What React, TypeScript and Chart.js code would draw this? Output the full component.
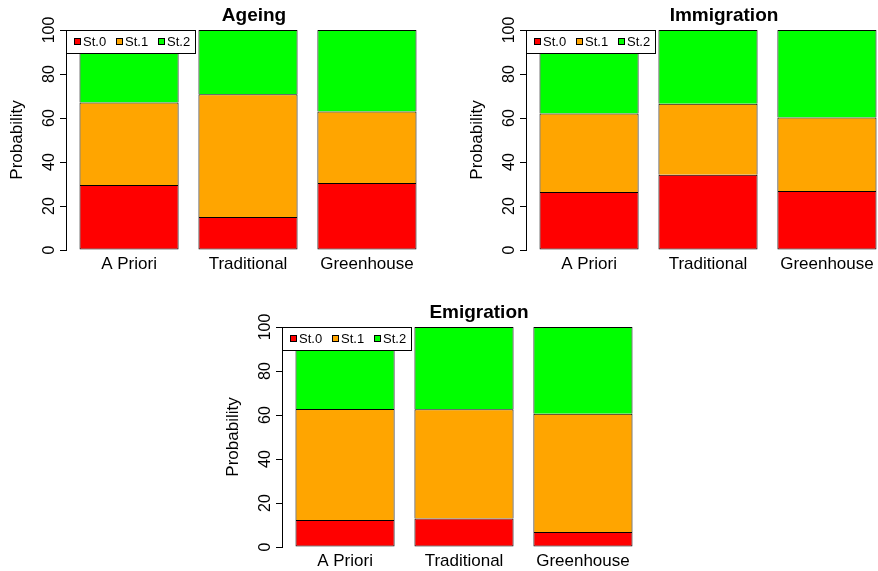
import React, { useEffect, useRef } from "react";
import { Chart, registerables } from "chart.js";

Chart.register(...registerables);

const FONT = '"Liberation Sans", Arial, Helvetica, sans-serif';
Chart.defaults.font.family = FONT;

// ---------------- data ----------------
const categories = ["A Priori", "Traditional", "Greenhouse"];
const stateLabels = ["St.0", "St.1", "St.2"];
const stateColors = ["#FF0000", "#FFA500", "#00FF00"];
const yTickValues = [0, 20, 40, 60, 80, 100];
const panelTitles = ["Ageing", "Immigration", "Emigration"];

const ageingSt0 = [29.5, 15.0, 30.5];
const ageingSt1 = [37.5, 55.8, 32.5];
const ageingSt2 = [33.0, 29.2, 37.0];

const immigrationSt0 = [26.4, 34.2, 26.8];
const immigrationSt1 = [35.7, 32.3, 33.4];
const immigrationSt2 = [37.9, 33.5, 39.8];

const emigrationSt0 = [12.3, 13.0, 6.8];
const emigrationSt1 = [50.4, 49.6, 53.8];
const emigrationSt2 = [37.3, 37.4, 39.4];

const panelSeries = [
  [ageingSt0, ageingSt1, ageingSt2],
  [immigrationSt0, immigrationSt1, immigrationSt2],
  [emigrationSt0, emigrationSt1, emigrationSt2],
];

// ---------------- layout ----------------
const CANVAS_W = 440;
const CANVAS_H = 285;
const PLOT_TOP = 30;
const PLOT_H = 220;
const AXIS_X = 66;
const panelLayout = [
  { left: 0, top: 0, titleX: 254 },
  { left: 460, top: 0, titleX: 264 },
  { left: 216, top: 297, titleX: 263 },
];

// R barplot geometry (width 1, space 0.2)
const BAR_W = 1;
const BAR_SPACE = 0.2;
const PITCH = BAR_W + BAR_SPACE;
const barCenter = (i: number) => BAR_SPACE + BAR_W / 2 + i * PITCH;
const X_LO = BAR_SPACE;
const X_HI = categories.length * PITCH;
const X_PAD = (X_HI - X_LO) * 0.04;

const titlePlugin = {
  id: "panelTitle",
  afterDraw(chart: any) {
    const { ctx, chartArea } = chart;
    const t = chart.options.plugins.panelTitle;
    ctx.save();
    ctx.font = `bold 19px ${FONT}`;
    ctx.fillStyle = "#000";
    ctx.textAlign = "center";
    ctx.textBaseline = "alphabetic";
    ctx.fillText(t.text, t.x, chartArea.top - 9);
    ctx.restore();
  },
};

const boxLegendPlugin = {
  id: "boxLegend",
  afterDraw(chart: any) {
    const { ctx, chartArea } = chart;
    const x0 = chartArea.left;
    const y0 = chartArea.top;
    const w = 129;
    const h = 23;
    ctx.save();
    ctx.fillStyle = "#fff";
    ctx.fillRect(x0, y0, w, h);
    ctx.strokeStyle = "#000";
    ctx.lineWidth = 1;
    ctx.strokeRect(x0 + 0.5, y0 + 0.5, w, h);
    ctx.font = `13px ${FONT}`;
    ctx.textBaseline = "middle";
    ctx.textAlign = "left";
    chart.data.datasets.forEach((ds: any, i: number) => {
      const sx = x0 + 8 + i * 42;
      const sy = y0 + 8;
      ctx.fillStyle = ds.backgroundColor;
      ctx.fillRect(sx, sy, 7, 7);
      ctx.strokeStyle = "#000";
      ctx.strokeRect(sx + 0.5, sy + 0.5, 6, 6);
      ctx.fillStyle = "#000";
      ctx.fillText(ds.label, sx + 9, y0 + 12);
    });
    ctx.restore();
  },
};

function Panel({ index }: { index: number }) {
  const ref = useRef<HTMLCanvasElement | null>(null);
  useEffect(() => {
    if (!ref.current) return;
    const series = panelSeries[index];
    const chart = new Chart(ref.current, {
      type: "bar",
      data: {
        datasets: series.map((vals, si) => ({
          label: stateLabels[si],
          data: vals.map((v, i) => ({ x: barCenter(i), y: v })),
          backgroundColor: stateColors[si],
          borderColor: "#000",
          borderWidth: { top: 1, left: 1, right: 1, bottom: si === 0 ? 1 : 0 },
          borderSkipped: false,
          categoryPercentage: 1,
          barPercentage: BAR_W / PITCH,
        })),
      },
      options: {
        animation: false,
        responsive: false,
        events: [],
        layout: { padding: { left: 0, top: PLOT_TOP, right: CANVAS_W - AXIS_X - 364, bottom: 0 } },
        plugins: {
          legend: { display: false },
          tooltip: { enabled: false },
          title: { display: false },
          panelTitle: { text: panelTitles[index], x: panelLayout[index].titleX },
        } as any,
        scales: {
          x: {
            type: "linear",
            stacked: true,
            offset: false,
            min: X_LO - X_PAD,
            max: X_HI + X_PAD,
            grid: { display: false, drawTicks: false, offset: false },
            border: { display: false },
            afterBuildTicks: (s: any) => {
              s.ticks = categories.map((_, i) => ({ value: barCenter(i) }));
            },
            afterFit: (s: any) => {
              s.height = CANVAS_H - PLOT_TOP - PLOT_H;
            },
            ticks: {
              autoSkip: false,
              maxRotation: 0,
              minRotation: 0,
              padding: 4,
              color: "#000",
              font: { size: 17 },
              callback: (_v: any, i: number) => categories[i],
            },
          },
          y: {
            type: "linear",
            stacked: true,
            min: 0,
            max: 100,
            afterBuildTicks: (s: any) => {
              s.ticks = yTickValues.map((v) => ({ value: v }));
            },
            afterFit: (s: any) => {
              s.width = AXIS_X;
            },
            grid: {
              display: true,
              drawOnChartArea: false,
              drawTicks: true,
              tickLength: 6,
              color: "#000",
              lineWidth: 1,
            },
            border: { display: true, color: "#000", width: 1 },
            ticks: {
              color: "#000",
              font: { size: 16 },
              minRotation: 90,
              maxRotation: 90,
              crossAlign: "center",
              padding: -3,
            },
            title: {
              display: true,
              text: "Probability",
              color: "#000",
              font: { size: 17 },
              padding: { top: 7, bottom: 0 },
            },
          },
        },
      },
      plugins: [titlePlugin, boxLegendPlugin],
    } as any);
    return () => chart.destroy();
  }, [index]);
  const L = panelLayout[index];
  return (
    <div style={{ position: "absolute", left: L.left, top: L.top, width: CANVAS_W, height: CANVAS_H }}>
      <canvas ref={ref} width={CANVAS_W} height={CANVAS_H} style={{ width: CANVAS_W, height: CANVAS_H, display: "block" }} />
    </div>
  );
}

export default function App() {
  return (
    <div
      style={{
        position: "absolute",
        left: 0,
        top: 0,
        width: 878,
        height: 571,
        overflow: "hidden",
        background: "#fff",
      }}
    >
      {panelTitles.map((_, i) => (
        <Panel key={i} index={i} />
      ))}
    </div>
  );
}
